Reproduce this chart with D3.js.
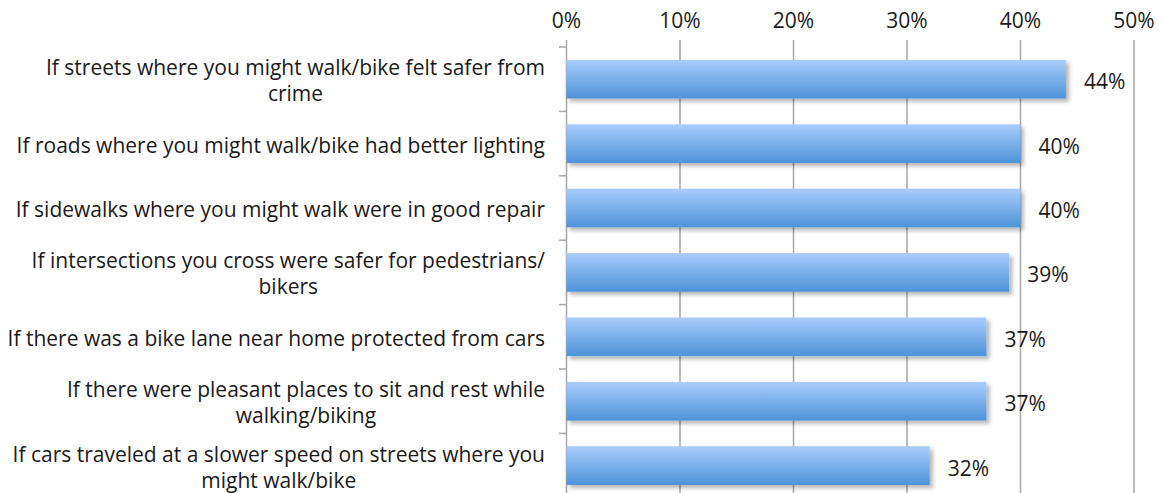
<!DOCTYPE html>
<html><head><meta charset="utf-8">
<script src="https://cdn.jsdelivr.net/npm/d3@7"></script>
<style>html,body{margin:0;padding:0;background:#fff;}svg{display:block;}</style>
</head><body>
<script>
const categories = [
  ["If streets where you might walk/bike felt safer from", "crime"],
  ["If roads where you might walk/bike had better lighting"],
  ["If sidewalks where you might walk were in good repair"],
  ["If intersections you cross were safer for pedestrians/", "bikers"],
  ["If there was a bike lane near home protected from cars"],
  ["If there were pleasant places to sit and rest while", "walking/biking"],
  ["If cars traveled at a slower speed on streets where you", "might walk/bike"]
];
const values = [44, 40, 40, 39, 37, 37, 32];
const tickValues = [0, 10, 20, 30, 40, 50];

const W = 1162, H = 493;
const FONT = "'Open Sans', sans-serif";
const FS = 21;
const svg = d3.select("body").append("svg").attr("width", W).attr("height", H);
const defs = svg.append("defs");
const grad = defs.append("linearGradient").attr("id", "barGrad").attr("x1", 0).attr("y1", 0).attr("x2", 0).attr("y2", 1);
grad.append("stop").attr("offset", "0%").attr("stop-color", "#a9cdfb");
grad.append("stop").attr("offset", "100%").attr("stop-color", "#4d93d9");
const f = defs.append("filter").attr("id", "shadow").attr("x", "-5%").attr("y", "-30%").attr("width", "115%").attr("height", "180%");
f.append("feDropShadow").attr("dx", 3).attr("dy", 3).attr("stdDeviation", 2).attr("flood-color", "#000").attr("flood-opacity", 0.3);

const x = d3.scaleLinear().domain([0, 50]).range([566.5, 1134]);
const idx = d3.range(categories.length);
const y = d3.scaleBand().domain(idx).range([47, 497.8]).paddingInner(0.4).paddingOuter(0.2);
const step = y.step();

// vertical gridlines
svg.append("g").selectAll("line").data(tickValues).join("line")
  .attr("x1", d => x(d)).attr("x2", d => x(d))
  .attr("y1", 40).attr("y2", H + 10)
  .attr("stroke", "#a6a6a6").attr("stroke-width", 1.5);

// top axis labels
svg.append("g").selectAll("text").data(tickValues).join("text")
  .attr("x", d => x(d)).attr("y", 20)
  .attr("text-anchor", "middle").attr("dominant-baseline", "central")
  .attr("font-family", FONT).attr("font-size", FS).attr("fill", "#1a1a1a")
  .text(d => d + "%");

// left axis ticks
const boundaries = d3.range(categories.length + 1).map(i => 47 + i * step);
svg.append("g").selectAll("line").data(boundaries).join("line")
  .attr("x1", 559).attr("x2", x(0))
  .attr("y1", d => d).attr("y2", d => d)
  .attr("stroke", "#a6a6a6").attr("stroke-width", 1.5);

// bars
svg.append("g").selectAll("rect").data(idx).join("rect")
  .attr("x", x(0)).attr("y", i => y(i))
  .attr("width", i => x(values[i]) - x(0)).attr("height", y.bandwidth())
  .attr("fill", "url(#barGrad)").attr("filter", "url(#shadow)");

// value labels
svg.append("g").selectAll("text").data(idx).join("text")
  .attr("x", i => x(values[i]) + 18).attr("y", i => y(i) + y.bandwidth() / 2 + 2)
  .attr("dominant-baseline", "central")
  .attr("font-family", FONT).attr("font-size", FS).attr("fill", "#1a1a1a")
  .text(i => values[i] + "%");

// category labels
const lg = svg.append("g");
idx.forEach(i => {
  const lines = categories[i];
  const cy = y(i) + y.bandwidth() / 2 + 1;
  const t = lg.append("text").attr("font-family", FONT).attr("font-size", FS).attr("fill", "#1a1a1a")
    .attr("text-anchor", "middle").attr("dominant-baseline", "central");
  const lh = 26;
  const spans = lines.map((ln, k) => t.append("tspan").attr("y", cy + (k - (lines.length - 1) / 2) * lh).text(ln));
  const widths = spans.map(s => s.node().getComputedTextLength());
  const w = d3.max(widths);
  spans.forEach(s => s.attr("x", 545 - w / 2));
});
</script>
</body></html>
